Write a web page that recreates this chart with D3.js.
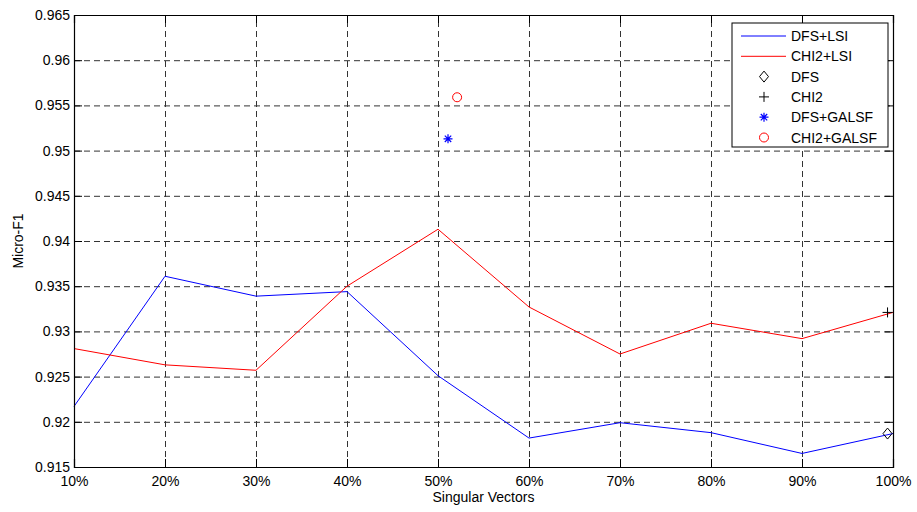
<!DOCTYPE html>
<html>
<head>
<meta charset="utf-8">
<script src="https://cdn.jsdelivr.net/npm/d3@7"></script>
<style>
  body { margin: 0; background: #fff; }
  svg { font-family: "Liberation Sans", Arial, sans-serif; }
  .axis text { font-size: 14px; fill: #000; }
  .axis path, .axis line { stroke: #000; }
  .grid line { stroke: #333; stroke-dasharray: 6,4; }
  .grid path { display: none; }
</style>
</head>
<body>
<script>
var w = 917;
var h = 512;
var margin = {top: 15, right: 24, bottom: 45, left: 74};

// singular vectors (%)
var xs = [10, 20, 30, 40, 50, 60, 70, 80, 90, 100];
var xTicks = [10, 20, 30, 40, 50, 60, 70, 80, 90, 100];
var yTicks = [0.915, 0.92, 0.925, 0.93, 0.935, 0.94, 0.945, 0.95, 0.955, 0.96, 0.965];

// line series
var dfsLsi = [0.9217, 0.9361, 0.9339, 0.9344, 0.9251, 0.9182, 0.9199, 0.9188, 0.9165, 0.9187];
var chi2Lsi = [0.9281, 0.9263, 0.9257, 0.9350, 0.9413, 0.9327, 0.9275, 0.9309, 0.9292, 0.9321];

// single points: [x, y]
var dfsPoint = [99.4, 0.9187];
var chi2Point = [99.4, 0.9321];
var dfsGalsf = [51.1, 0.9513];
var chi2Galsf = [52.1, 0.9559];

var legendLabels = ["DFS+LSI", "CHI2+LSI", "DFS", "CHI2", "DFS+GALSF", "CHI2+GALSF"];

var iw = w - margin.left - margin.right;
var ih = h - margin.top - margin.bottom;

var svg = d3.select("body")
    .append("svg")
    .attr("width", w)
    .attr("height", h);

var g = svg.append("g")
    .attr("transform", "translate(" + margin.left + "," + margin.top + ")");

var xScale = d3.scaleLinear().domain([10, 100]).range([0, iw]);
var yScale = d3.scaleLinear().domain([0.915, 0.965]).range([ih, 0]);

//dashed grid
g.append("g")
    .attr("class", "grid")
    .attr("transform", "translate(0," + ih + ")")
    .call(d3.axisBottom(xScale).tickValues(xTicks.slice(1, -1)).tickSize(-ih).tickFormat(""));

g.append("g")
    .attr("class", "grid")
    .call(d3.axisLeft(yScale).tickValues(yTicks.slice(1, -1)).tickSize(-iw).tickFormat(""));

//lines
var line = d3.line()
    .x(function (d, i) { return xScale(xs[i]); })
    .y(function (d) { return yScale(d); });

g.append("path")
    .datum(dfsLsi)
    .attr("d", line)
    .attr("fill", "none")
    .attr("stroke", "#0000ff")
    .attr("stroke-width", 1);

g.append("path")
    .datum(chi2Lsi)
    .attr("d", line)
    .attr("fill", "none")
    .attr("stroke", "#ff0000")
    .attr("stroke-width", 1);

//marker drawing helpers
function diamond(sel, cx, cy) {
    sel.append("path")
        .attr("d", "M" + cx + "," + (cy - 5.5) + "L" + (cx + 4.5) + "," + cy + "L" + cx + "," + (cy + 5.5) + "L" + (cx - 4.5) + "," + cy + "Z")
        .attr("fill", "none")
        .attr("stroke", "#000")
        .attr("stroke-width", 1);
}
function plus(sel, cx, cy) {
    sel.append("path")
        .attr("d", "M" + (cx - 5) + "," + cy + "H" + (cx + 5) + "M" + cx + "," + (cy - 5) + "V" + (cy + 5))
        .attr("stroke", "#000")
        .attr("stroke-width", 1);
}
function star(sel, cx, cy) {
    var r = 4.5, d = 3.2;
    sel.append("path")
        .attr("d", "M" + (cx - r) + "," + cy + "H" + (cx + r) + "M" + cx + "," + (cy - r) + "V" + (cy + r) +
            "M" + (cx - d) + "," + (cy - d) + "L" + (cx + d) + "," + (cy + d) +
            "M" + (cx - d) + "," + (cy + d) + "L" + (cx + d) + "," + (cy - d))
        .attr("stroke", "#0000ff")
        .attr("stroke-width", 1.2);
}
function circle(sel, cx, cy) {
    sel.append("circle")
        .attr("cx", cx)
        .attr("cy", cy)
        .attr("r", 4.5)
        .attr("fill", "none")
        .attr("stroke", "#ff0000")
        .attr("stroke-width", 1);
}

diamond(g, xScale(dfsPoint[0]), yScale(dfsPoint[1]));
plus(g, xScale(chi2Point[0]), yScale(chi2Point[1]));
star(g, xScale(dfsGalsf[0]), yScale(dfsGalsf[1]));
circle(g, xScale(chi2Galsf[0]), yScale(chi2Galsf[1]));

//axes, ticks inside like matlab
var fmtY = function (d) { return String(+d.toFixed(3)); };

g.append("g")
    .attr("class", "axis")
    .attr("transform", "translate(0," + ih + ")")
    .call(d3.axisBottom(xScale).tickValues(xTicks).tickSize(-8).tickPadding(9)
        .tickFormat(function (d) { return d + "%"; }));

g.append("g")
    .attr("class", "axis")
    .call(d3.axisTop(xScale).tickValues(xTicks).tickSize(-8).tickFormat(""));

g.append("g")
    .attr("class", "axis")
    .call(d3.axisLeft(yScale).tickValues(yTicks).tickSize(-8).tickPadding(4).tickFormat(fmtY));

g.append("g")
    .attr("class", "axis")
    .attr("transform", "translate(" + iw + ",0)")
    .call(d3.axisRight(yScale).tickValues(yTicks).tickSize(-8).tickFormat(""));

g.selectAll(".axis path").attr("stroke-width", 1.2);

//axis titles
svg.append("text")
    .attr("x", margin.left + iw / 2)
    .attr("y", 502)
    .attr("text-anchor", "middle")
    .attr("font-size", "14px")
    .text("Singular Vectors");

svg.append("text")
    .attr("transform", "translate(23," + (margin.top + ih / 2) + ") rotate(-90)")
    .attr("text-anchor", "middle")
    .attr("font-size", "14px")
    .text("Micro-F1");

//legend
var lg = svg.append("g").attr("transform", "translate(732,23)");
lg.append("rect")
    .attr("width", 156)
    .attr("height", 124)
    .attr("fill", "#fff")
    .attr("stroke", "#000")
    .attr("stroke-width", 1);

var rowY = function (i) { return 13 + i * 20.3; };

legendLabels.forEach(function (lab, i) {
    var y = rowY(i);
    if (i === 0 || i === 1) {
        lg.append("line")
            .attr("x1", 9).attr("x2", 54)
            .attr("y1", y).attr("y2", y)
            .attr("stroke", i === 0 ? "#0000ff" : "#ff0000")
            .attr("stroke-width", 1);
    } else if (i === 2) {
        diamond(lg, 32, y);
    } else if (i === 3) {
        plus(lg, 32, y);
    } else if (i === 4) {
        star(lg, 32, y);
    } else {
        circle(lg, 32, y);
    }
    lg.append("text")
        .attr("x", 59)
        .attr("y", y)
        .attr("dy", "0.36em")
        .attr("font-size", "14px")
        .text(lab);
});
</script>
</body>
</html>
